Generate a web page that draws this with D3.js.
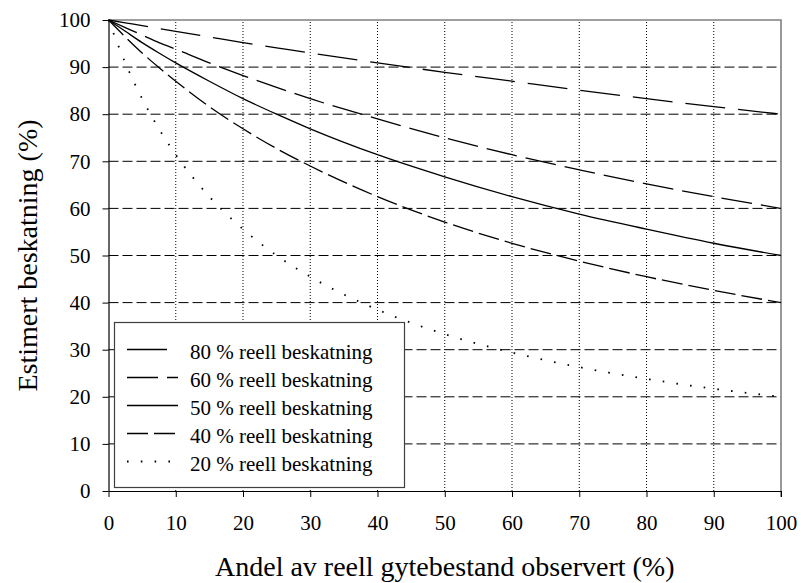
<!DOCTYPE html>
<html><head><meta charset="utf-8">
<script src="https://cdn.jsdelivr.net/npm/d3@7"></script>
<style>
body{margin:0;background:#fff}
svg{display:block}
svg text{font-family:'Times New Roman','Liberation Serif','DejaVu Serif',Times,serif !important;fill:#000}
</style>
</head><body>
<svg id="chart" width="801" height="583"></svg>
<script>
// ---- data ----
const observed = [0, 2.5, 5, 7.5, 10, 15, 20, 25, 30, 40, 50, 60, 70, 80, 90, 100];
const est80 = [100, 99.4, 98.8, 98.2, 97.6, 96.4, 95.2, 94.1, 93.0, 90.9, 88.9, 87.0, 85.1, 83.3, 81.6, 80];
const est60 = [100, 98.4, 96.8, 95.2, 93.8, 90.9, 88.2, 85.7, 83.3, 79.0, 75.0, 71.4, 68.2, 65.2, 62.5, 60];
const est50 = [100, 97.6, 95.2, 93.0, 90.9, 87.0, 83.3, 80.0, 76.9, 71.4, 66.7, 62.5, 58.8, 55.6, 52.6, 50];
const est40 = [100, 96.4, 93.0, 89.9, 87.0, 81.6, 76.9, 72.7, 69.0, 62.5, 57.1, 52.6, 48.8, 45.5, 42.6, 40];
const est20 = [100, 90.9, 83.3, 76.9, 71.4, 62.5, 55.6, 50.0, 45.5, 38.5, 33.3, 29.4, 26.3, 23.8, 21.7, 20];
const seriesLabels = ["80 % reell beskatning", "60 % reell beskatning", "50 % reell beskatning", "40 % reell beskatning", "20 % reell beskatning"];
const xTicks = [0, 10, 20, 30, 40, 50, 60, 70, 80, 90, 100];
const yTicks = [0, 10, 20, 30, 40, 50, 60, 70, 80, 90, 100];
const xTitle = "Andel av reell gytebestand observert (%)";
const yTitle = "Estimert beskatning (%)";

// ---- styles ----
const FONT = "'Times New Roman','Liberation Serif','DejaVu Serif',serif";
const dashes = ["40,13", "31,9", null, "21,6", "1.6,12.2"];
const allSeries = [est80, est60, est50, est40, est20];

const svg = d3.select("#chart");
const x = d3.scaleLinear().domain([0, 100]).range([108.5, 781]);
const y = d3.scaleLinear().domain([0, 100]).range([491, 20]);

// grid
const grid = svg.append("g");
grid.selectAll("line.h").data(yTicks.filter(v => v > 0 && v < 100)).join("line")
  .attr("x1", x(0)).attr("x2", x(100)).attr("y1", d => y(d)).attr("y2", d => y(d))
  .attr("stroke", "#000").attr("stroke-width", 1).attr("stroke-dasharray", "10,4");
grid.selectAll("line.v").data(xTicks.filter(v => v > 0 && v < 100)).join("line")
  .attr("x1", d => x(d)).attr("x2", d => x(d)).attr("y1", y(0)).attr("y2", y(100))
  .attr("stroke", "#000").attr("stroke-width", 1).attr("stroke-dasharray", "1,2");

// top & right border
svg.append("path")
  .attr("d", `M${x(0)},${y(100)}H${x(100)}V${y(0) + 6}`)
  .attr("fill", "none").attr("stroke", "#808080").attr("stroke-width", 1.6);

// curves
const line = d3.line().x((d, i) => x(observed[i])).y(d => y(d)).curve(d3.curveMonotoneX);
svg.append("g").selectAll("path").data(allSeries).join("path")
  .attr("d", d => line(d))
  .attr("fill", "none").attr("stroke", "#000")
  .attr("stroke-width", (d, i) => i === 4 ? 1.8 : 1.3)
  .attr("stroke-dasharray", (d, i) => dashes[i]);

// axes
const yAxis = d3.axisLeft(y).tickValues(yTicks).tickSize(6).tickSizeOuter(0).tickPadding(12);
const xAxis = d3.axisBottom(x).tickValues(xTicks).tickSize(6).tickSizeOuter(0).tickPadding(18);
const gy = svg.append("g").attr("transform", `translate(${x(0)},0)`).call(yAxis);
const gx = svg.append("g").attr("transform", `translate(0,${y(0)})`).call(xAxis);
[gy, gx].forEach(g => {
  g.attr("font-family", FONT).attr("font-size", 21);
  g.selectAll("text").attr("font-family", FONT).attr("font-size", 21).attr("fill", "#000");
  g.selectAll("line").attr("stroke", "#000");
  g.select(".domain").attr("stroke", "#000").attr("stroke-width", 1.2);
});

// legend
const lg = svg.append("g").attr("font-family", FONT);
lg.append("rect").attr("x", 114.5).attr("y", 322.5).attr("width", 290).attr("height", 165)
  .attr("fill", "#fff").attr("stroke", "#404040").attr("stroke-width", 1.2);
const rowBase = d3.scaleLinear().domain([0, 4]).range([358.5, 470.5]);
seriesLabels.forEach((lab, i) => {
  lg.append("line").attr("x1", 127).attr("x2", 178)
    .attr("y1", rowBase(i) - 9).attr("y2", rowBase(i) - 9)
    .attr("stroke", "#000").attr("stroke-width", i === 4 ? 1.8 : 1.3)
    .attr("stroke-dasharray", dashes[i]);
  lg.append("text").attr("x", 190).attr("y", rowBase(i)).attr("font-family", FONT).attr("font-size", 21).text(lab);
});

// titles
svg.append("text").attr("x", (x(0) + x(100)) / 2).attr("y", 576).attr("font-family", FONT)
  .attr("text-anchor", "middle").attr("font-size", 28).text(xTitle);
svg.append("text").attr("transform", `translate(37,${(y(0) + y(100)) / 2}) rotate(-90)`).attr("font-family", FONT)
  .attr("text-anchor", "middle").attr("font-size", 28).text(yTitle);
</script>
</body></html>
